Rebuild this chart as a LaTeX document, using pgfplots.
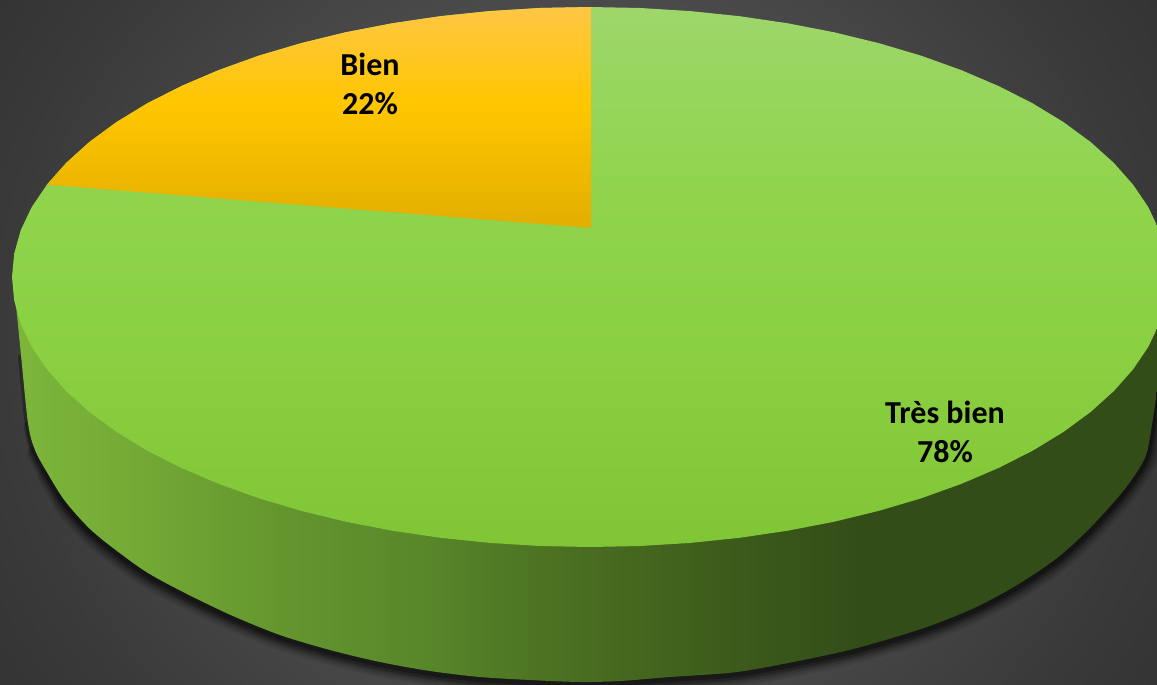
\documentclass[border=0pt]{standalone}
\usepackage{fontspec}
\setmainfont{Carlito}
\usepackage{pgfplots}
\usepackage{pgfplotstable}
\pgfplotsset{compat=1.18}

% colours
\definecolor{bg0}{HTML}{555555}
\definecolor{bg1}{HTML}{4A4A4A}
\definecolor{bg2}{HTML}{3A3A3A}
\definecolor{bg3}{HTML}{323232}
\definecolor{gr0}{HTML}{80C535}
\definecolor{gr1}{HTML}{8AD042}
\definecolor{gr2}{HTML}{8FD44B}
\definecolor{gr3}{HTML}{95D65B}
\definecolor{gr4}{HTML}{9FD66B}
\definecolor{or0}{HTML}{E2AE00}
\definecolor{or1}{HTML}{FFC600}
\definecolor{or2}{HTML}{FFC645}
\definecolor{wa0}{HTML}{7CB53A}
\definecolor{wa1}{HTML}{72A835}
\definecolor{wa2}{HTML}{64962E}
\definecolor{wa3}{HTML}{58862A}
\definecolor{wa4}{HTML}{4A6F21}
\definecolor{wa5}{HTML}{3F5F1C}
\definecolor{wa6}{HTML}{334D18}

% the picture's bounding box runs from 25bp to 75bp of each shading
\pgfdeclareradialshading{bgglow}{\pgfpoint{0bp}{0bp}}{color(0bp)=(bg0); color(16bp)=(bg1); color(25bp)=(bg2); color(31bp)=(bg3); color(50bp)=(bg3)}
\pgfdeclareverticalshading{greentop}{100bp}{color(0bp)=(gr0); color(25bp)=(gr0); color(43bp)=(gr1); color(57bp)=(gr2); color(66bp)=(gr3); color(75bp)=(gr4); color(100bp)=(gr4)}
\pgfdeclareverticalshading{orangetop}{100bp}{color(0bp)=(or0); color(25bp)=(or0); color(53bp)=(or1); color(75bp)=(or2); color(100bp)=(or2)}
\pgfdeclarehorizontalshading{wall}{100bp}{color(0bp)=(wa0); color(25.7bp)=(wa0); color(30.9bp)=(wa1); color(36.6bp)=(wa2); color(43bp)=(wa3); color(49bp)=(wa4); color(54.7bp)=(wa5); color(61.7bp)=(wa6); color(100bp)=(wa6)}

% rim of the top face, in picture pixels
\pgfplotstableread{
x y
590 7
640.4 8
690.4 11.1
739.6 16.2
787.7 23.3
834.3 32.3
879 43.2
921.5 55.8
961.5 70.2
998.7 86.1
1032.8 103.4
1063.5 122.1
1090.6 142
1113.8 162.9
1133.1 184.7
1148.3 207.1
1159.2 230.1
1165.8 253.5
1168 277
1165.8 300.5
1159.2 323.9
1148.3 346.9
1133.1 369.3
1113.8 391.1
1090.6 412
1063.5 431.9
1032.8 450.6
998.7 467.9
961.5 483.8
921.5 498.2
879 510.8
834.3 521.7
787.7 530.7
739.6 537.8
690.4 542.9
640.4 546
590 547
539.6 546
489.6 542.9
440.4 537.8
392.3 530.7
345.7 521.7
301 510.8
258.5 498.2
218.5 483.8
181.3 467.9
147.2 450.6
116.5 431.9
89.4 412
66.2 391.1
46.9 369.3
31.7 346.9
20.8 323.9
14.2 300.5
12 277
14.2 253.5
20.8 230.1
31.7 207.1
46.9 184.7
66.2 162.9
89.4 142
116.5 122.1
147.2 103.4
181.3 86.1
218.5 70.2
258.5 55.8
301 43.2
345.7 32.3
392.3 23.3
440.4 16.2
489.6 11.1
539.6 8
}\rimtable

% the Bien slice
\pgfplotstableread{
x y
591 228
591 7
539.6 8
489.6 11.1
440.4 16.2
392.3 23.3
345.7 32.3
301 43.2
258.5 55.8
218.5 70.2
181.3 86.1
147.2 103.4
116.5 122.1
89.4 142
66.2 162.9
46.9 184.7
}\bientable

% outer edge of the side wall
\pgfplotstableread{
x y
13 278
17 315
21 355
28 423
35 450
48 474
65 501
90 529
117 551
148 573
187 594
233 616
280 635
330 650
380 662
430 671
480 677
530 680
580 682
620 681
670 677
737 672
803 660
857 648
924 628
974 608
1017 585
1057 558
1090 528
1124 490
1144 460
1150 437
1157 390
1166 320
}\walltable

\begin{document}
\begin{tikzpicture}
\begin{axis}[
  scale only axis,
  width=578.5pt,
  height=342.5pt,
  xmin=0, xmax=1157,
  ymin=0, ymax=685,
  y dir=reverse,
  hide axis,
  shadow/.style={black, line join=round, line cap=round, smooth, tension=0.5},
]
% background glow, taller than the axis so it is nearly round
\addplot[draw=none, shade, shading=bgglow] coordinates {(0,-200) (1157,-200) (1157,885) (0,885)} -- cycle;

% soft shadow under the wall, the wider layers start lower down
\addplot[shadow, opacity=0.07, line width=12pt] table[x=x, y expr=\thisrow{y}+3, skip coords between index={0}{6}] {\walltable};
\addplot[shadow, opacity=0.09, line width=10pt] table[x=x, y expr=\thisrow{y}+3, skip coords between index={0}{5}] {\walltable};
\addplot[shadow, opacity=0.11, line width=8pt] table[x=x, y expr=\thisrow{y}+3, skip coords between index={0}{4}] {\walltable};
\addplot[shadow, opacity=0.15, line width=6pt] table[x=x, y expr=\thisrow{y}+3, skip coords between index={0}{4}] {\walltable};
\addplot[shadow, opacity=0.20, line width=4.5pt] table[x=x, y expr=\thisrow{y}+3, skip coords between index={0}{3}] {\walltable};
\addplot[shadow, opacity=0.30, line width=3pt] table[x=x, y expr=\thisrow{y}+2, skip coords between index={0}{2}] {\walltable};

% side wall, then top face, then the slice
\addplot[draw=none, shade, shading=wall, smooth, tension=0.5] table[x=x, y=y] {\walltable} -- cycle;
\addplot[draw=none, shade, shading=greentop] table[x=x, y=y] {\rimtable} -- cycle;
\addplot[draw=none, shade, shading=orangetop] table[x=x, y=y] {\bientable} -- cycle;

\node[align=center, font=\fontsize{16}{19.3}\selectfont\bfseries, text=black] at (axis cs:370,84) {Bien\\22\%};
\node[align=center, font=\fontsize{16}{19.3}\selectfont\bfseries, text=black] at (axis cs:945,432) {Très bien\\78\%};
\end{axis}
\end{tikzpicture}
\end{document}
